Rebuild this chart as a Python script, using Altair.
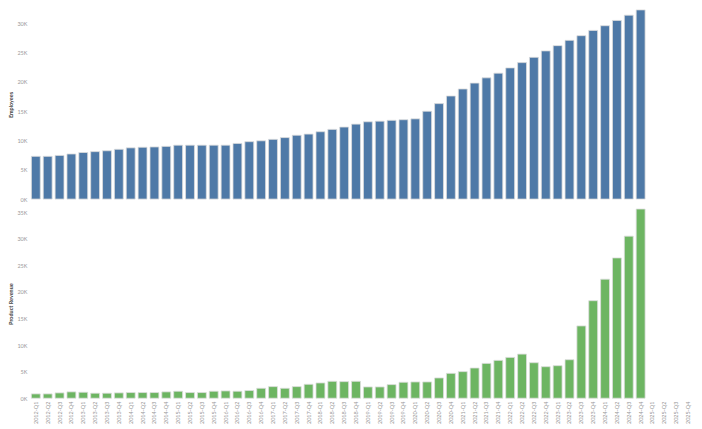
import altair as alt
import pandas as pd

quarters = [
    "2012-Q1", "2012-Q2", "2012-Q3", "2012-Q4",
    "2013-Q1", "2013-Q2", "2013-Q3", "2013-Q4",
    "2014-Q1", "2014-Q2", "2014-Q3", "2014-Q4",
    "2015-Q1", "2015-Q2", "2015-Q3", "2015-Q4",
    "2016-Q1", "2016-Q2", "2016-Q3", "2016-Q4",
    "2017-Q1", "2017-Q2", "2017-Q3", "2017-Q4",
    "2018-Q1", "2018-Q2", "2018-Q3", "2018-Q4",
    "2019-Q1", "2019-Q2", "2019-Q3", "2019-Q4",
    "2020-Q1", "2020-Q2", "2020-Q3", "2020-Q4",
    "2021-Q1", "2021-Q2", "2021-Q3", "2021-Q4",
    "2022-Q1", "2022-Q2", "2022-Q3", "2022-Q4",
    "2023-Q1", "2023-Q2", "2023-Q3", "2023-Q4",
    "2024-Q1", "2024-Q2", "2024-Q3", "2024-Q4",
    "2025-Q1", "2025-Q2", "2025-Q3", "2025-Q4",
]

employees = [
    7300, 7300, 7450, 7700, 7950, 8100, 8250, 8500, 8750, 8850,
    8900, 9000, 9200, 9200, 9200, 9200, 9200, 9500, 9800, 9950,
    10200, 10500, 10900, 11100, 11500, 11900, 12300, 12800, 13200, 13300,
    13450, 13550, 13700, 15000, 16300, 17600, 18800, 19800, 20700, 21500,
    22400, 23300, 24200, 25300, 26200, 27100, 27900, 28800, 29600, 30500,
    31400, 32300,
]

revenue = [
    810, 810, 1000, 1190, 1120, 940, 940, 1000, 1060, 1060,
    1060, 1190, 1310, 1060, 1060, 1310, 1370, 1310, 1440, 1870,
    2180, 1870, 2180, 2620, 2870, 3180, 3120, 3180, 2120, 2120,
    2560, 3000, 3060, 3060, 3810, 4680, 5000, 5680, 6550, 7120,
    7680, 8300, 6680, 5930, 6120, 7240, 13600, 18350, 22400, 26400,
    30500, 35600,
]

emp_ticks = [0, 5000, 10000, 15000, 20000, 25000, 30000]
rev_ticks = [0, 5000, 10000, 15000, 20000, 25000, 30000, 35000]

n = len(employees)
df = pd.DataFrame({
    "Quarter": quarters[:n],
    "Employees": employees,
    "Product Revenue": revenue,
})

FONT = "Lato"
W = 667
H = 190

xscale = alt.Scale(domain=quarters, paddingInner=0.25, paddingOuter=0.125)

def yaxis(title, ticks):
    return alt.Axis(
        title=title, values=ticks, labelExpr="datum.value / 1000 + 'K'",
        grid=False, domain=False, ticks=False, labelPadding=3,
        labelFontSize=5.5, labelColor="#999999", labelFont=FONT,
        titleFontSize=5.5, titleFontWeight="bold", titleColor="#444444",
        titleFont=FONT, titlePadding=3,
    )

top = alt.Chart(df).mark_bar(color="#4e79a7", stroke="#dddddd", strokeWidth=0.8).encode(
    x=alt.X("Quarter:N", scale=xscale, axis=None, sort=quarters),
    y=alt.Y("Employees:Q", scale=alt.Scale(nice=False, zero=True),
            axis=yaxis("Employees", emp_ticks)),
).properties(width=W, height=H)

bottom = alt.Chart(df).mark_bar(color="#6db562", stroke="#dddddd", strokeWidth=0.8).encode(
    x=alt.X("Quarter:N", scale=xscale, sort=quarters,
            axis=alt.Axis(title=None, labelAngle=-90, domain=False, ticks=False,
                          labelPadding=3, labelFontSize=5.5, labelColor="#999999",
                          labelFont=FONT)),
    y=alt.Y("Product Revenue:Q", scale=alt.Scale(nice=False, zero=True),
            axis=yaxis("Product Revenue", rev_ticks)),
).properties(width=W, height=H)

chart = alt.vconcat(top, bottom, spacing=5).configure_view(stroke=None).properties(
    background="white", padding=0
)

chart.save("out.html", embed_options={"renderer": "svg", "actions": False})
